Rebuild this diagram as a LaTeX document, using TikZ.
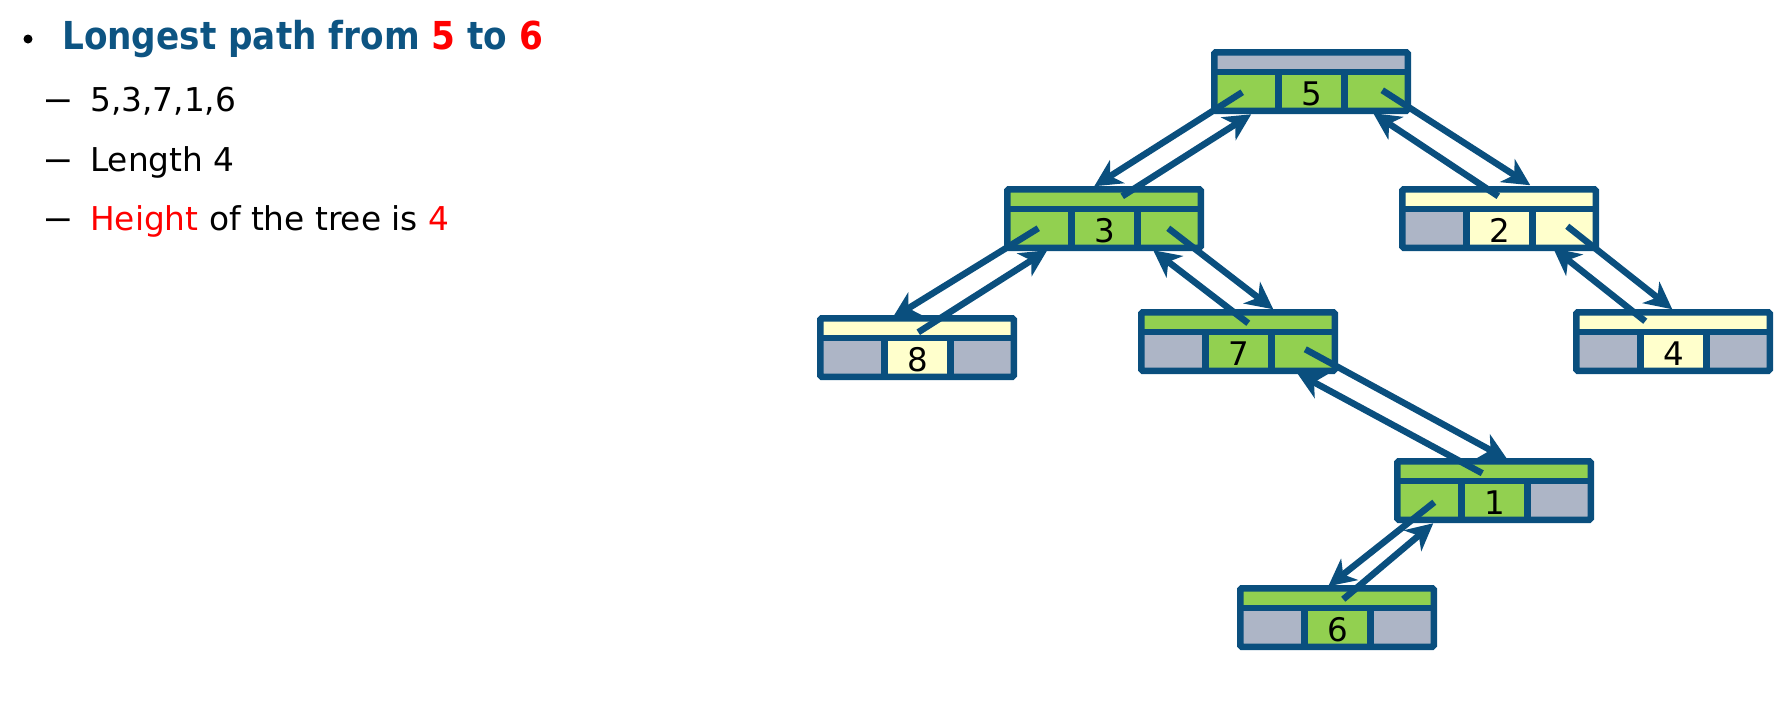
\documentclass[tikz,border=0pt]{standalone}
\usepackage{fontspec}
\setmainfont{DejaVu Sans}
\usetikzlibrary{arrows.meta}
\definecolor{tblue}{HTML}{0A4F7E}
\definecolor{tgreen}{HTML}{92D050}
\definecolor{tgray}{HTML}{ADB5C6}
\definecolor{tyel}{HTML}{FFFFCC}
\definecolor{ttitle}{HTML}{0D5482}
\definecolor{tred}{HTML}{FF0000}
\tikzset{
  tbox/.style={draw=tblue, line width=6.5pt, minimum width=193.5pt, minimum height=58.5pt,
    inner sep=0pt, outer sep=0pt, rounded corners=1.5pt},
  tline/.style={draw=tblue, line width=6.5pt},
  tlabel/.style={anchor=base, inner sep=0pt, font=\fontsize{32.5}{38}\selectfont},
  arr/.style={draw=tblue, line width=6.5pt, -{Stealth[length=27pt,width=27pt,inset=8pt]}},
  itemtxt/.style={anchor=base west, inner sep=0pt, font=\fontsize{32.8}{38}\selectfont},
}
\newcommand\treenode[8]{%
  \fill[#4] (#2+3,#3+3) rectangle (#2+197,#3+23);
  \fill[#5] (#2+3,#3+23) rectangle (#2+67.5,#3+62);
  \fill[#6] (#2+67.5,#3+23) rectangle (#2+133.5,#3+62);
  \fill[#7] (#2+133.5,#3+23) rectangle (#2+197,#3+62);
  \node[tbox] (#1) at (#2+100,#3+32.5) {};
  \draw[tline] (#2+3.25,#3+23) -- (#2+196.75,#3+23);
  \draw[tline] (#2+67.5,#3+23) -- (#2+67.5,#3+61.75);
  \draw[tline] (#2+133.5,#3+23) -- (#2+133.5,#3+61.75);
  \node[tlabel] (#1v) at (#2+100.5,#3+56) {#8};
}
\begin{document}
\begin{tikzpicture}[x=1pt,y=-1pt]
\useasboundingbox (0,0) rectangle (1782,710);
% text
\fill[black] (28,39) circle (4.5);
\node[anchor=base west, inner sep=0pt, text=ttitle] (title) at (62,49)
  {\scalebox{0.89}[1]{\fontsize{38.5}{44}\selectfont\bfseries Longest path from \textcolor{tred}{5} to \textcolor{tred}{6}}};
\node[itemtxt] (d1) at (42,111) {\scalebox{1.15}[1]{−}};
\node[itemtxt] (i1) at (90,111) {5,3,7,1,6};
\node[itemtxt] (d2) at (42,171) {\scalebox{1.15}[1]{−}};
\node[itemtxt] (i2) at (90,171) {Length 4};
\node[itemtxt] (d3) at (42,230) {\scalebox{1.15}[1]{−}};
\node[itemtxt] (i3) at (90,230) {\textcolor{tred}{Height} of the tree is \textcolor{tred}{4}};
% tree nodes
\treenode{n5}{1211}{49}{tgray}{tgreen}{tgreen}{tgreen}{5}
\treenode{n3}{1004}{186}{tgreen}{tgreen}{tgreen}{tgreen}{3}
\treenode{n2}{1399}{186}{tyel}{tgray}{tyel}{tyel}{2}
\treenode{n8}{817}{315}{tyel}{tgray}{tyel}{tgray}{8}
\treenode{n7}{1138}{309}{tgreen}{tgray}{tgreen}{tgreen}{7}
\treenode{n4}{1573}{309}{tyel}{tgray}{tyel}{tgray}{4}
\treenode{n1}{1394}{458}{tgreen}{tgreen}{tgreen}{tgray}{1}
\treenode{n6}{1237}{585}{tgreen}{tgray}{tgreen}{tgray}{6}
% arrows
\draw[arr] ([shift={(28,40)}]n5.north west) -- ([shift={(87,-3)}]n3.north west);
\draw[arr] ([shift={(115,7)}]n3.north west) -- ([shift={(37,62)}]n5.north west);
\draw[arr] ([shift={(168,38)}]n5.north west) -- ([shift={(128,-4)}]n2.north west);
\draw[arr] ([shift={(96,7)}]n2.north west) -- ([shift={(159,61)}]n5.north west);
\draw[arr] ([shift={(31,39)}]n3.north west) -- ([shift={(72,0)}]n8.north west);
\draw[arr] ([shift={(98,14)}]n8.north west) -- ([shift={(40,61)}]n3.north west);
\draw[arr] ([shift={(161,39)}]n3.north west) -- ([shift={(132,-3)}]n7.north west);
\draw[arr] ([shift={(107,11)}]n7.north west) -- ([shift={(146,61)}]n3.north west);
\draw[arr] ([shift={(165,37)}]n2.north west) -- ([shift={(96,-3)}]n4.north west);
\draw[arr] ([shift={(69,9)}]n4.north west) -- ([shift={(151,59)}]n2.north west);
\draw[arr] ([shift={(164,37)}]n7.north west) -- ([shift={(110,-2)}]n1.north west);
\draw[arr] ([shift={(85,12)}]n1.north west) -- ([shift={(156,61)}]n7.north west);
\draw[arr] ([shift={(37,41)}]n1.north west) -- ([shift={(88,-2)}]n6.north west);
\draw[arr] ([shift={(103,11)}]n6.north west) -- ([shift={(36,62)}]n1.north west);
\end{tikzpicture}
\end{document}
